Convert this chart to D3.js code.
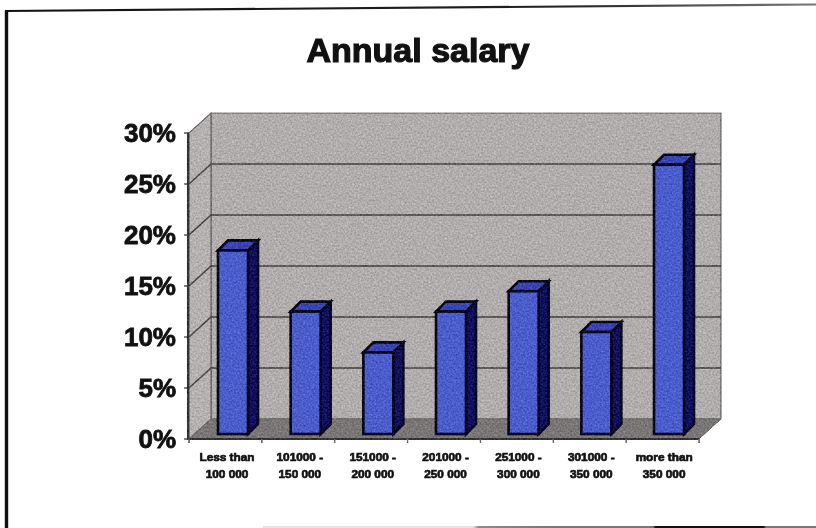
<!DOCTYPE html>
<html><head><meta charset="utf-8">
<script src="https://cdn.jsdelivr.net/npm/d3@7/dist/d3.min.js"></script>
<style>html,body{margin:0;background:#fff}svg{display:block}text{font-family:"Liberation Sans",Arial,sans-serif;font-weight:700;fill:#111}</style>
</head><body><svg id="c" width="816" height="528"></svg>
<script>
const chartTitle = "Annual salary";
const categoriesLine1 = ["Less than","101000 -","151000 -","201000 -","251000 -","301000 -","more than"];
const categoriesLine2 = ["100 000","150 000","200 000","250 000","300 000","350 000","350 000"];
const values = [18,12,8,12,14,10,26.4];
const yTicks = [0,5,10,15,20,25,30];

const depthX=22, depthY=-20;
const svg=d3.select("#c");
const defs=svg.append("defs");
const soft=defs.append("filter").attr("id","soft").attr("color-interpolation-filters","sRGB");
soft.append("feGaussianBlur").attr("stdDeviation",0.5);
const grain=defs.append("filter").attr("id","grain").attr("color-interpolation-filters","sRGB")
  .attr("filterUnits","userSpaceOnUse").attr("x",170).attr("y",100).attr("width",570).attr("height",350);
grain.append("feTurbulence").attr("type","fractalNoise").attr("baseFrequency",0.55).attr("numOctaves",2).attr("seed",7).attr("result","n");
grain.append("feColorMatrix").attr("in","n").attr("type","matrix").attr("values","1 0 0 0 0 1 0 0 0 0 1 0 0 0 0 0 0 0 0 1").attr("result","g");
grain.append("feComposite").attr("in","SourceGraphic").attr("in2","g").attr("operator","arithmetic").attr("k1",0).attr("k2",1).attr("k3",0.3).attr("k4",-0.15).attr("result","m");
grain.append("feComposite").attr("in","m").attr("in2","SourceAlpha").attr("operator","in").attr("result","c");
grain.append("feGaussianBlur").attr("in","c").attr("stdDeviation",0.55);
const botGrad=defs.append("linearGradient").attr("id","bot").attr("gradientUnits","userSpaceOnUse").attr("x1",263).attr("x2",816).attr("y1",0).attr("y2",0);
[[0,"#e4e4e4"],[0.38,"#e4e4e4"],[0.39,"#8a8a8a"],[0.53,"#777"],[0.705,"#777"],[0.71,"#111"],[0.905,"#111"],[0.91,"#777"],[1,"#777"]]
  .forEach(s=>botGrad.append("stop").attr("offset",s[0]).attr("stop-color",s[1]));
const topGrad=defs.append("linearGradient").attr("id","top").attr("gradientUnits","userSpaceOnUse").attr("x1",7).attr("x2",816).attr("y1",0).attr("y2",0);
[[0,"#111"],[0.7,"#222"],[0.85,"#555"],[1,"#777"]].forEach(s=>topGrad.append("stop").attr("offset",s[0]).attr("stop-color",s[1]));

const x=d3.scaleBand().domain(categoriesLine1).range([189,699]);
const barX=d3.scalePoint().domain(categoriesLine1).range([218,654]);
const y=d3.scaleLinear().domain([0,30]).range([439,133]);
const pts=a=>a.map(p=>p.join(",")).join(" ");

// frame
const frame=svg.append("g").attr("filter","url(#soft)").attr("fill","none");
frame.append("path").attr("d","M6.5,528V11").attr("stroke","#111").attr("stroke-width",3.4);
frame.append("path").attr("d","M5,11L816,4.5").attr("stroke","url(#top)").attr("stroke-width",2.2);
frame.append("path").attr("d","M263,527H816").attr("stroke","url(#bot)").attr("stroke-width",2);

const plot=svg.append("g").attr("filter","url(#grain)");
const [x0,x1]=x.range();
const y0=y(0),yT=y(30);
// walls & floor
plot.append("polygon").attr("points",pts([[x0+depthX,yT+depthY],[x1+depthX,yT+depthY],[x1+depthX,y0+depthY],[x0+depthX,y0+depthY]])).attr("fill","#b1adad").attr("stroke","#5c5a5a").attr("stroke-width",1.2);
plot.append("polygon").attr("points",pts([[x0,yT],[x0+depthX,yT+depthY],[x0+depthX,y0+depthY],[x0,y0]])).attr("fill","#b5b1b1").attr("stroke","#666").attr("stroke-width",1.2);
plot.append("polygon").attr("points",pts([[x0,y0],[x1,y0],[x1+depthX,y0+depthY],[x0+depthX,y0+depthY]])).attr("fill","#7b7676").attr("stroke","#666").attr("stroke-width",1);
// gridlines
yTicks.slice(1,-1).forEach(t=>{
  plot.append("path").attr("d",`M${x0},${y(t)}L${x0+depthX},${y(t)+depthY}H${x1+depthX}`).attr("fill","none").attr("stroke","#454141").attr("stroke-width",1.5);
});
// axes
plot.append("path").attr("d",`M${x0-1},${yT}V${y0}H${x1}`).attr("fill","none").attr("stroke","#333").attr("stroke-width",2.2);
yTicks.forEach(t=>plot.append("line").attr("x1",x0-5).attr("x2",x0).attr("y1",y(t)).attr("y2",y(t)).attr("stroke","#333").attr("stroke-width",1.4));
[...categoriesLine1.map(c=>x(c)),x1].forEach(v=>plot.append("line").attr("x1",v).attr("x2",v).attr("y1",y0).attr("y2",y0+4).attr("stroke","#666").attr("stroke-width",1.6));

// bars
const barLift=5, barW=30, bx=10, by=-10;
const bars=plot.selectAll("g.bar").data(values).join("g").attr("class","bar");
bars.each(function(v,i){
  const g=d3.select(this), l=barX(categoriesLine1[i]), r=l+barW, b=y(0)-barLift, t=y(v)-barLift;
  g.append("polygon").attr("points",pts([[r,t],[r+bx,t+by],[r+bx,b+by],[r,b]])).attr("fill","#10105e").attr("stroke","#05051c").attr("stroke-width",2.6);
  g.append("polygon").attr("points",pts([[l,t],[l+bx,t+by],[r+bx,t+by],[r,t]])).attr("fill","#3a44b0").attr("stroke","#05051c").attr("stroke-width",2.6);
  g.append("rect").attr("x",l).attr("y",t).attr("width",barW).attr("height",b-t).attr("fill","#4b5ccb").attr("stroke","#05051c").attr("stroke-width",2.6);
});

// text
const txt=svg.append("g").attr("filter","url(#soft)");
txt.append("text").attr("x",418).attr("y",62).attr("text-anchor","middle").attr("font-size",34).attr("stroke","#111").attr("stroke-width",1.2).text(chartTitle);
yTicks.forEach(t=>txt.append("text").attr("x",176).attr("y",y(t)+9).attr("text-anchor","end").attr("font-size",26).attr("stroke","#111").attr("stroke-width",0.8).text(t+"%"));
categoriesLine1.forEach((c,i)=>{
  const cx=x(c)+38;
  [[c,461],[categoriesLine2[i],478]].forEach(([s,by])=>
    txt.append("text").attr("x",cx).attr("y",by).attr("text-anchor","middle").attr("font-size",11.8).attr("stroke","#111").attr("stroke-width",0.7).text(s));
});
</script></body></html>
